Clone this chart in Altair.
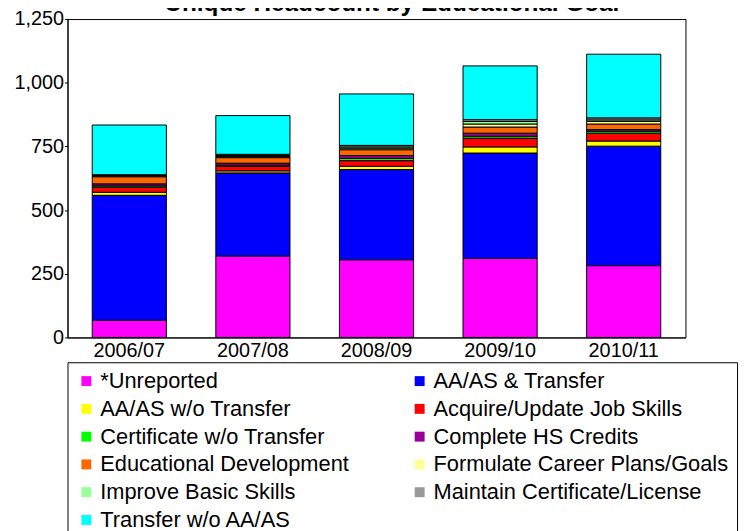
import altair as alt
import pandas as pd

title_text = "Unique Headcount by Educational Goal"
years = ["2006/07", "2007/08", "2008/09", "2009/10", "2010/11"]
goals = [
    "*Unreported", "AA/AS & Transfer", "AA/AS w/o Transfer",
    "Acquire/Update Job Skills", "Certificate w/o Transfer",
    "Complete HS Credits", "Educational Development",
    "Formulate Career Plans/Goals", "Improve Basic Skills",
    "Maintain Certificate/License", "Transfer w/o AA/AS",
]
colors = ["#FF00FF", "#0000FF", "#FFFF00", "#FF0000", "#00FF00", "#990099",
          "#FF6600", "#FFFF99", "#99FF99", "#999999", "#00FFFF"]

unreported = [68, 320, 305, 311, 282]
aa_transfer = [490, 326, 354, 413, 469]
aa_no_transfer = [12, 8, 13, 24, 20]
acquire_skills = [20, 18, 22, 34, 31]
certificate = [5, 4, 9, 8, 8]
complete_hs = [8, 8, 11, 12, 6]
educational_dev = [28, 22, 23, 24, 22]
formulate_plans = [3, 4, 6, 12, 10]
improve_basic = [2, 4, 5, 10, 6]
maintain_cert = [3, 5, 6, 7, 8]
transfer_no_aa = [195, 152, 202, 211, 250]

y_ticks = [0, 250, 500, 750, 1000, 1250]

series = [unreported, aa_transfer, aa_no_transfer, acquire_skills, certificate,
          complete_hs, educational_dev, formulate_plans, improve_basic,
          maintain_cert, transfer_no_aa]

rows = []
for gi, (g, vals) in enumerate(zip(goals, series)):
    for y, v in zip(years, vals):
        rows.append({"year": y, "goal": g, "value": v, "ord": gi})
df = pd.DataFrame(rows)

FONT = "Liberation Sans"

bars = alt.Chart(df).mark_bar(stroke="black", strokeWidth=1).encode(
    x=alt.X("year:N", sort=years, title=None,
            scale=alt.Scale(paddingInner=0.4, paddingOuter=0.2),
            axis=alt.Axis(labelAngle=0, ticks=False, labelFontSize=20,
                          labelPadding=3, labelColor="black", domainColor="black",
                          labelFont=FONT)),
    y=alt.Y("value:Q", stack="zero", title=None,
            scale=alt.Scale(domain=[0, 1250], nice=False),
            axis=alt.Axis(values=y_ticks, format=",d", grid=False, tickSize=3,
                          labelPadding=1, labelFontSize=20, labelColor="black",
                          tickColor="black", domainColor="black", labelFont=FONT)),
    color=alt.Color("goal:N", sort=goals,
                    scale=alt.Scale(domain=goals, range=colors),
                    legend=alt.Legend(title=None, orient="none", legendX=0, legendY=346,
                                      direction="horizontal",
                                      columns=2, columnPadding=60, rowPadding=6,
                                      symbolType="square", symbolSize=100,
                                      symbolStrokeWidth=0, labelFontSize=22,
                                      labelFont=FONT, labelColor="black",
                                      labelOffset=3, labelLimit=400,
                                      padding=8, strokeColor="black",
                                      fillColor="white")),
    order=alt.Order("ord:Q", sort="ascending"),
)

title = alt.Chart(pd.DataFrame({"t": [title_text]})).mark_text(
    fontSize=24.5, fontWeight="bold", font=FONT, color="black",
    align="center", baseline="alphabetic",
).encode(text="t:N", x=alt.value(327), y=alt.value(-8))

chart = alt.layer(bars, title).properties(
    width=623, height=321,
    autosize=alt.AutoSizeParams(type="none"),
    padding={"left": 60, "top": 9, "right": 60, "bottom": 193},
).configure_view(stroke="black", strokeWidth=1)

chart.save("out.html", embed_options={"renderer": "svg", "actions": False})
